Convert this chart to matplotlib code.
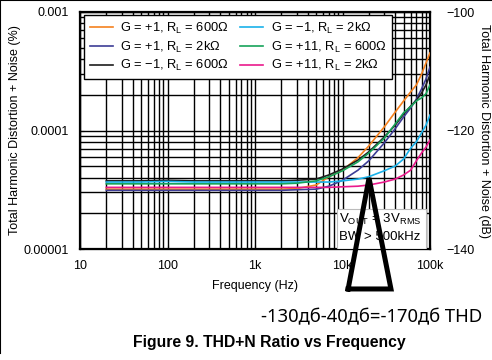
import numpy as np
import matplotlib
matplotlib.use("Agg")
import matplotlib.pyplot as plt
from matplotlib.lines import Line2D
from matplotlib.patches import Rectangle

plt.rcParams['font.family'] = ['Liberation Sans', 'DejaVu Sans']
plt.rcParams['mathtext.fontset'] = 'custom'
plt.rcParams['mathtext.rm'] = 'Liberation Sans'
plt.rcParams['mathtext.it'] = 'Liberation Sans'

# frequency points (Hz)
freq = [20, 50, 100, 200, 500, 1000, 2000, 3000, 5000, 7000, 10000, 15000,
        20000, 30000, 40000, 50000, 60000, 70000, 80000, 90000, 100000]

g1_600 = [-129.9, -129.9, -129.9, -129.9, -129.9, -129.9, -129.9, -129.8, -129.2, -127.8,
          -126.7, -124.6, -122.6, -119.4, -116.9, -115.0, -113.5, -112.3, -110.5, -108.6, -106.9]
g1_2k = [-130.1, -130.1, -130.1, -130.1, -130.1, -130.1, -130.1, -130.0, -129.9, -129.4,
         -128.4, -126.7, -125.1, -122.1, -119.7, -117.7, -116.2, -114.7, -113.0, -111.3, -109.3]
gm1_600 = [-128.5, -128.5, -128.4, -128.5, -128.5, -128.5, -128.5, -128.4, -128.2, -127.5,
           -126.5, -125.0, -123.6, -121.1, -119.1, -117.2, -115.9, -114.9, -113.7, -112.3, -110.6]
gm1_2k = [-128.7, -128.7, -128.6, -128.7, -128.7, -128.7, -128.7, -128.7, -128.7, -128.7,
          -128.5, -128.2, -127.8, -126.8, -126.0, -124.8, -123.0, -121.9, -120.4, -119.1, -117.4]
g11_600 = [-129.0, -129.0, -129.0, -129.0, -129.0, -129.0, -129.0, -128.9, -128.5, -127.8,
           -126.8, -125.3, -123.8, -121.3, -118.9, -117.0, -116.0, -115.0, -114.5, -113.8, -112.3]
g11_2k = [-129.6, -129.6, -129.6, -129.6, -129.6, -129.6, -129.6, -129.6, -129.6, -129.6,
          -129.5, -129.4, -129.2, -128.7, -128.2, -127.5, -126.7, -125.1, -123.8, -122.8, -121.6]

labels = ['G = +1, R$_\\mathrm{L}$ = 600Ω', 'G = +1, R$_\\mathrm{L}$ = 2kΩ',
          'G = −1, R$_\\mathrm{L}$ = 600Ω', 'G = −1, R$_\\mathrm{L}$ = 2kΩ',
          'G = +11, R$_\\mathrm{L}$ = 600Ω', 'G = +11, R$_\\mathrm{L}$ = 2kΩ']
colors = ['#f5821f', '#3d3d96', '#1e1e1e', '#1ab2ea', '#17a35a', '#ea1a8c']
series = [g1_600, g1_2k, gm1_600, gm1_2k, g11_600, g11_2k]

# hand-drawn triangle (freq, %) and note
tri_f = [11600, 20100, 35800, 11600]
tri_p = [4.6e-6, 3.97e-5, 4.6e-6, 4.6e-6]

fig = plt.figure(figsize=(4.92, 3.6), dpi=100)
ax = fig.add_axes([80 / 492, 1 - 249 / 360, 350 / 492, 237 / 360])

for s, c, lab in zip(series, colors, labels):
    pct = 100 * 10 ** (np.array(s) / 20.0)
    ax.plot(freq, pct, color=c, lw=1.2, label=lab, zorder=3)

ax.set_xscale('log')
ax.set_yscale('log')
ax.set_xlim(10, 100000)
ax.set_ylim(1e-5, 1e-3)
ax.set_xticks([10, 100, 1000, 10000, 100000])
ax.set_xticklabels(['10', '100', '1k', '10k', '100k'])
ax.set_yticks([1e-5, 1e-4, 1e-3])
ax.set_yticklabels(['0.00001', '0.0001', '0.001'])
ax.grid(True, which='both', color='black', lw=1.0)
ax.tick_params(which='both', direction='in', length=3, labelsize=9, pad=8)
for sp in ax.spines.values():
    sp.set_linewidth(1.6)
ax.set_xlabel('Frequency (Hz)', fontsize=9, labelpad=6)
ax.set_ylabel('Total Harmonic Distortion + Noise (%)', fontsize=9, labelpad=2)

ax2 = ax.twinx()
ax2.set_ylim(-140, -100)
ax2.set_yticks([-140, -120, -100])
ax2.set_yticklabels(['−140', '−120', '−100'])
ax2.tick_params(length=0, labelsize=9, pad=12)
ax2.set_ylabel('Total Harmonic Distortion + Noise (dB)', fontsize=9,
               rotation=270, labelpad=11)

leg = ax.legend(loc='upper left', bbox_to_anchor=(0.011, 0.987), ncol=2,
                fontsize=9.3, borderaxespad=0, fancybox=False, framealpha=1,
                edgecolor='black', handlelength=1.8, handletextpad=0.55,
                columnspacing=0.9, labelspacing=0.28, borderpad=0.45)
leg.get_frame().set_linewidth(1.0)
leg.set_zorder(5)

ax.add_patch(Rectangle((0.734, 0.0), 0.255, 0.169, transform=ax.transAxes,
                       facecolor='white', edgecolor='#bbbbbb', lw=0.8, zorder=4))
ax.text(0.74, 0.125, 'V$_\\mathrm{OUT}$ = 3V$_\\mathrm{RMS}$', transform=ax.transAxes,
        fontsize=9.5, va='center', ha='left', zorder=5)
ax.text(0.74, 0.05, 'BW > 500kHz', transform=ax.transAxes,
        fontsize=9.5, va='center', ha='left', zorder=5)

ax.plot(tri_f, tri_p, color='black', lw=3.6, clip_on=False, zorder=6,
        solid_joinstyle='miter')

fig.text(372 / 492, 1 - 317 / 360, '-130дб-40дб=-170дб THD', family='Noto Sans',
         fontsize=13.3, ha='center', va='center')
fig.text(269 / 492, 1 - 343 / 360, 'Figure 9. THD+N Ratio vs Frequency',
         fontsize=11.3, fontweight='bold', ha='center', va='center')

fig.add_artist(Line2D([0.001, 0.001], [0.02, 1], color='black', lw=1.5))
fig.add_artist(Line2D([0, 1], [0.999, 0.999], color='black', lw=1.5))

fig.savefig('out.png', dpi=100)
